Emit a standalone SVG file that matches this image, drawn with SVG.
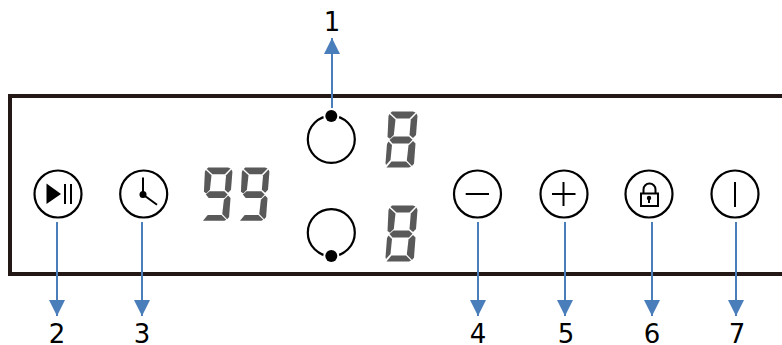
<svg xmlns="http://www.w3.org/2000/svg" width="782" height="345" viewBox="0 0 782 345">
<style>
.ring{fill:#fff;stroke:#000;stroke-width:2.200}
.ink{fill:none;stroke:#000;stroke-width:2}
.seg{fill:#595959}
.arrow{fill:none;stroke:#4a7ebb;stroke-width:2;marker-end:url(#head)}
.num{font-family:"DejaVu Sans",sans-serif;font-size:26px;fill:#000;text-anchor:middle}
.panel{fill:none;stroke:#231815;stroke-width:4}
</style>
<defs>
<marker id="head" markerUnits="userSpaceOnUse" markerWidth="16" markerHeight="16" refX="16" refY="8" orient="auto"><path d="M0 0L16 8L0 16Z" fill="#4a7ebb"/></marker>
<g id="sTop"><path class="seg" d="M392 111.500H413L415.500 112.500L409.500 118.500H396.500L390.500 113Z"/></g>
<g id="sUL"><path class="seg" d="M389.500 114L395.500 119.500L393.800 135L390 138.800L387.500 137L388.500 116Z"/></g>
<g id="sUR"><path class="seg" d="M416.500 113.500L417.500 116L416 135L413 138L409.500 135L410.800 119.500Z"/></g>
<g id="sMid"><path class="seg" d="M393.500 136.500H409L412.500 139.800L409 143.500H392.500L389.500 140Z"/></g>
<g id="sLL"><path class="seg" d="M388.500 141.500L392 145L390.500 160L386 165L385.500 163L387 144Z"/></g>
<g id="sLR"><path class="seg" d="M413 141L415.500 143.500L414 163.500L412 166L406.800 160.500L408.500 145.500Z"/></g>
<g id="sBot"><path class="seg" d="M386.500 167.500L391.500 161.500H406L411 166.500L409 167.500Z"/></g>
<g id="eight"><use href="#sTop"/><use href="#sUL"/><use href="#sUR"/><use href="#sMid"/><use href="#sLL"/><use href="#sLR"/><use href="#sBot"/></g>
<g id="nine"><use href="#sTop"/><use href="#sUL"/><use href="#sUR"/><use href="#sMid"/><use href="#sLR"/><use href="#sBot"/></g>
</defs>
<rect width="782" height="345" fill="#fff"/>
<path id="panel" class="panel" d="M782 96H10V274H782"/>
<g id="connectors">
<path class="arrow" d="M332 108V38"/>
<path class="arrow" d="M57 222V316"/>
<path class="arrow" d="M142 222V316"/>
<path class="arrow" d="M478 222V316"/>
<path class="arrow" d="M565 222V316"/>
<path class="arrow" d="M652 222V316"/>
<path class="arrow" d="M736 222V316"/>
</g>
<g id="zone-top"><circle class="ring" cx="331.300" cy="139.300" r="23.500"/><circle cx="331.300" cy="116" r="8" fill="#fff"/><circle cx="331.300" cy="116" r="6"/></g>
<g id="zone-bottom"><circle class="ring" cx="331.300" cy="232.700" r="23.500"/><circle cx="331.300" cy="256" r="8" fill="#fff"/><circle cx="331.300" cy="256" r="6"/></g>
<g id="digit-top"><use href="#eight"/></g>
<g id="digit-bottom"><use href="#eight" y="94"/></g>
<g id="timer"><use href="#nine" transform="translate(202.500 168) scale(.95) translate(-386 -112)"/><use href="#nine" transform="translate(239.500 168) scale(.95) translate(-386 -112)"/></g>
<g id="btn-play"><circle class="ring" cx="58" cy="194" r="23.500"/><path d="M46.500 183.500V204L61 194Z"/><path class="ink" d="M65 184V204M71 184V204"/></g>
<g id="btn-clock"><circle class="ring" cx="143.700" cy="194" r="23.500"/><circle cx="143" cy="194.500" r="3.500"/><path class="ink" d="M143 177.500V194.500L157 204.700"/></g>
<g id="btn-minus"><circle class="ring" cx="477.500" cy="194" r="23.500"/><path class="ink" d="M465.700 194H489"/></g>
<g id="btn-plus"><circle class="ring" cx="564" cy="194" r="23.500"/><path class="ink" d="M552 194H575.500M563.500 182V206"/></g>
<g id="btn-lock"><circle class="ring" cx="649" cy="194" r="23.500"/><rect class="ink" x="641" y="193.500" width="17" height="12.500"/><path class="ink" d="M643.500 193.500V189.500A6 6 0 0 1 655.500 189.500V193.500"/><circle cx="649" cy="198" r="2.200"/><path class="ink" d="M649 198V203"/></g>
<g id="btn-power"><circle class="ring" cx="735" cy="194" r="23.500"/><path class="ink" d="M735 182V207"/></g>
<g id="labels">
<text class="num" x="332" y="31">1</text>
<text class="num" x="57" y="343">2</text>
<text class="num" x="142" y="343">3</text>
<text class="num" x="478" y="343">4</text>
<text class="num" x="566" y="343">5</text>
<text class="num" x="652" y="343">6</text>
<text class="num" x="737" y="343">7</text>
</g>
</svg>
